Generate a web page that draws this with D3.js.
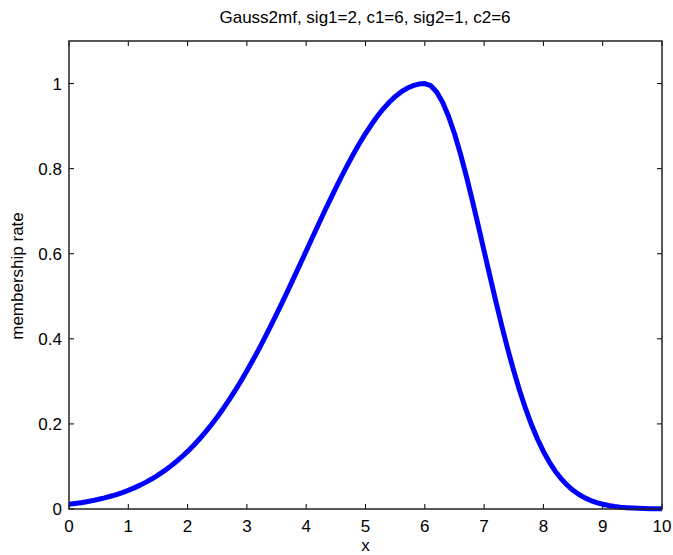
<!DOCTYPE html>
<html><head><meta charset="utf-8">
<script src="https://cdn.jsdelivr.net/npm/d3@7"></script>
<style>body{margin:0;background:#fff}svg{display:block}text{font-family:"Liberation Sans",Arial,sans-serif;fill:#000}</style>
</head><body>
<script>
const titleText = "Gauss2mf, sig1=2, c1=6, sig2=1, c2=6";
const xLabel = "x";
const yLabel = "membership rate";
const xTicks = [0,1,2,3,4,5,6,7,8,9,10];
const yTicks = [0,0.2,0.4,0.6,0.8,1];
const xValues = [0,0.1,0.2,0.3,0.4,0.5,0.6,0.7,0.8,0.9,1,1.1,1.2,1.3,1.4,1.5,1.6,1.7,1.8,1.9,2,2.1,2.2,2.3,2.4,2.5,2.6,2.7,2.8,2.9,3,3.1,3.2,3.3,3.4,3.5,3.6,3.7,3.8,3.9,4,4.1,4.2,4.3,4.4,4.5,4.6,4.7,4.8,4.9,5,5.1,5.2,5.3,5.4,5.5,5.6,5.7,5.8,5.9,6,6.1,6.2,6.3,6.4,6.5,6.6,6.7,6.8,6.9,7,7.1,7.2,7.3,7.4,7.5,7.6,7.7,7.8,7.9,8,8.1,8.2,8.3,8.4,8.5,8.6,8.7,8.8,8.9,9,9.1,9.2,9.3,9.4,9.5,9.6,9.7,9.8,9.9,10];
const yValues = [0.0111,0.0129,0.0149,0.0172,0.0198,0.0228,0.0261,0.0299,0.0340,0.0387,0.0439,0.0497,0.0561,0.0632,0.0710,0.0796,0.0889,0.0991,0.1103,0.1223,0.1353,0.1494,0.1645,0.1806,0.1979,0.2163,0.2357,0.2563,0.2780,0.3008,0.3247,0.3495,0.3753,0.4020,0.4296,0.4578,0.4868,0.5162,0.5461,0.5762,0.6065,0.6368,0.6670,0.6968,0.7261,0.7548,0.7827,0.8096,0.8353,0.8598,0.8825,0.9037,0.9231,0.9406,0.9560,0.9692,0.9802,0.9888,0.9950,0.9988,1.0,0.9950,0.9802,0.9560,0.9231,0.8825,0.8353,0.7827,0.7261,0.6670,0.6065,0.5461,0.4868,0.4296,0.3753,0.3247,0.2780,0.2357,0.1979,0.1645,0.1353,0.1103,0.0889,0.0710,0.0561,0.0439,0.0340,0.0261,0.0198,0.0149,0.0111,0.0082,0.0060,0.0043,0.0031,0.0022,0.0015,0.0011,0.0007,0.0005,0.0003];

const W = 673, H = 555;
const L = 69, R = 662, T = 41, B = 509;
const svg = d3.select("body").append("svg").attr("width", W).attr("height", H);
const x = d3.scaleLinear().domain([0,10]).range([L,R]);
const y = d3.scaleLinear().domain([0,1.1]).range([B,T]);
const tl = 5;
const fs = 17;

const g = svg.append("g");
xTicks.forEach(t => {
  g.append("line").attr("x1",x(t)).attr("x2",x(t)).attr("y1",B).attr("y2",B-tl).attr("stroke","#000");
  g.append("line").attr("x1",x(t)).attr("x2",x(t)).attr("y1",T).attr("y2",T+tl).attr("stroke","#000");
  g.append("text").attr("x",x(t)).attr("y",532).attr("text-anchor","middle").attr("font-size",fs).text(d3.format("d")(t));
});
yTicks.forEach(t => {
  g.append("line").attr("x1",L).attr("x2",L+tl).attr("y1",y(t)).attr("y2",y(t)).attr("stroke","#000");
  g.append("line").attr("x1",R).attr("x2",R-tl).attr("y1",y(t)).attr("y2",y(t)).attr("stroke","#000");
  g.append("text").attr("x",62).attr("y",y(t)+6).attr("text-anchor","end").attr("font-size",fs).text(t===0||t===1?String(t):d3.format(".1f")(t));
});
const line = d3.line().x((d,i)=>x(xValues[i])).y(d=>y(d));
g.append("path").datum(yValues).attr("d",line).attr("fill","none").attr("stroke","#0000ff").attr("stroke-width",5).attr("stroke-linejoin","round");
g.append("rect").attr("x",L).attr("y",T).attr("width",R-L).attr("height",B-T).attr("fill","none").attr("stroke","#222").attr("stroke-width",1.5);
svg.append("text").attr("x",365).attr("y",23).attr("text-anchor","middle").attr("font-size",fs).text(titleText);
svg.append("text").attr("x",(L+R)/2).attr("y",551).attr("text-anchor","middle").attr("font-size",fs).text(xLabel);
svg.append("text").attr("transform",`translate(23,276) rotate(-90)`).attr("text-anchor","middle").attr("font-size",fs).text(yLabel);
</script>
</body></html>
